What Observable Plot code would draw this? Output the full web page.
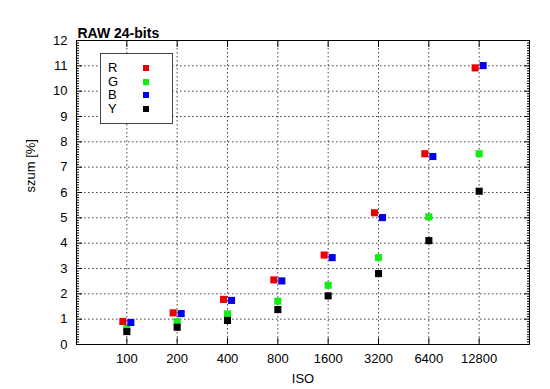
<!DOCTYPE html>
<html><head><meta charset="utf-8">
<script src="https://cdn.jsdelivr.net/npm/d3@7"></script>
<script src="https://cdn.jsdelivr.net/npm/@observablehq/plot@0.6"></script>
<style>
body{margin:0;background:#fff;font-family:"Liberation Sans",Arial,sans-serif;}
#wrap{position:relative;width:550px;height:389px;}
#legend{position:absolute;left:100px;top:53px;width:71px;height:69px;border:1px solid #444;background:#fff;box-sizing:content-box;}
#legend .row{position:absolute;left:0;width:71px;height:14px;font-size:13px;line-height:14px;color:#000;}
#legend .lab{position:absolute;left:7px;top:0;}
#legend .sw{position:absolute;left:42px;top:4px;width:6px;height:6px;}
</style></head>
<body><div id="wrap"><div id="chart"></div><div id="legend"></div></div>
<script>
const iso = [100, 200, 400, 800, 1600, 3200, 6400, 12800];
const R = [0.91, 1.25, 1.78, 2.55, 3.53, 5.20, 7.53, 10.92];
const G = [0.64, 0.90, 1.21, 1.71, 2.34, 3.43, 5.04, 7.53];
const B = [0.87, 1.22, 1.74, 2.51, 3.43, 5.01, 7.42, 11.01];
const Y = [0.51, 0.68, 0.95, 1.38, 1.92, 2.80, 4.10, 6.05];
const seriesNames = ["R", "G", "B", "Y"];
const seriesColors = ["#ee0000", "#11ee11", "#0000ee", "#000000"];
const seriesDx = [-4, 0, 4, 0];
const yTicks = [0,1,2,3,4,5,6,7,8,9,10,11,12];
const title = "RAW 24-bits";
const xLabel = "ISO";
const yLabel = "szum [%]";

const seriesValues = [R, G, B, Y];
const minorY = d3.range(0, 121).map(i => i / 10).filter(v => Math.abs(v - Math.round(v)) > 1e-9);

const dotMarks = seriesValues.map((vals, s) =>
  Plot.dot(iso.map((x, i) => ({iso: x, v: vals[i]})), {
    x: "iso", y: "v", symbol: "square", r: 4, fill: seriesColors[s], dx: seriesDx[s]
  })
);

const chart = Plot.plot({
  width: 550, height: 389,
  marginLeft: 76, marginRight: 21, marginTop: 40, marginBottom: 45,
  style: {fontFamily: "Liberation Sans, Arial, sans-serif", fontSize: "13px", color: "#000", background: "#fff"},
  x: {type: "log", base: 2, domain: [50, 25600]},
  y: {domain: [0, 12]},
  marks: [
    Plot.gridX(iso, {stroke: "#000", strokeOpacity: 0.75, strokeDasharray: "1.5,2.5"}),
    Plot.gridY(yTicks.slice(1, -1), {stroke: "#000", strokeOpacity: 0.75, strokeDasharray: "1.5,2.5"}),
    Plot.axisX(iso, {anchor: "bottom", tickSize: 0, tickPadding: 9, tickFormat: d => String(d), label: null}),
    Plot.axisX(iso, {anchor: "bottom", tickSize: -6, tickFormat: () => "", label: null}),
    Plot.axisX(iso, {anchor: "top", tickSize: -6, tickFormat: () => "", label: null}),
    Plot.axisY(yTicks, {anchor: "left", tickSize: 0, tickPadding: 9, label: null}),
    Plot.axisY(yTicks, {anchor: "left", tickSize: -6, tickFormat: () => "", label: null}),
    Plot.axisY(yTicks, {anchor: "right", tickSize: -6, tickFormat: () => "", label: null}),
    Plot.axisY(minorY, {anchor: "left", tickSize: -3, tickFormat: () => "", label: null}),
    Plot.axisY(minorY, {anchor: "right", tickSize: -3, tickFormat: () => "", label: null}),
    Plot.frame({stroke: "#000"}),
    ...dotMarks,
    Plot.text([title], {frameAnchor: "top-left", textAnchor: "start", lineAnchor: "bottom", dx: 1, dy: -3, fontWeight: "bold", fontSize: 14}),
    Plot.text([xLabel], {frameAnchor: "bottom", lineAnchor: "middle", dy: 34, fontSize: 13}),
    Plot.text([yLabel], {frameAnchor: "left", rotate: -90, lineAnchor: "middle", dx: -46, fontSize: 13})
  ]
});
document.getElementById("chart").appendChild(chart);

const legend = document.getElementById("legend");
seriesNames.forEach((name, s) => {
  const row = document.createElement("div");
  row.className = "row";
  row.style.top = (7 + s * 13.5) + "px";
  const lab = document.createElement("span");
  lab.className = "lab";
  lab.textContent = name;
  const sw = document.createElement("span");
  sw.className = "sw";
  sw.style.background = seriesColors[s];
  row.appendChild(lab);
  row.appendChild(sw);
  legend.appendChild(row);
});
</script>
</body></html>
